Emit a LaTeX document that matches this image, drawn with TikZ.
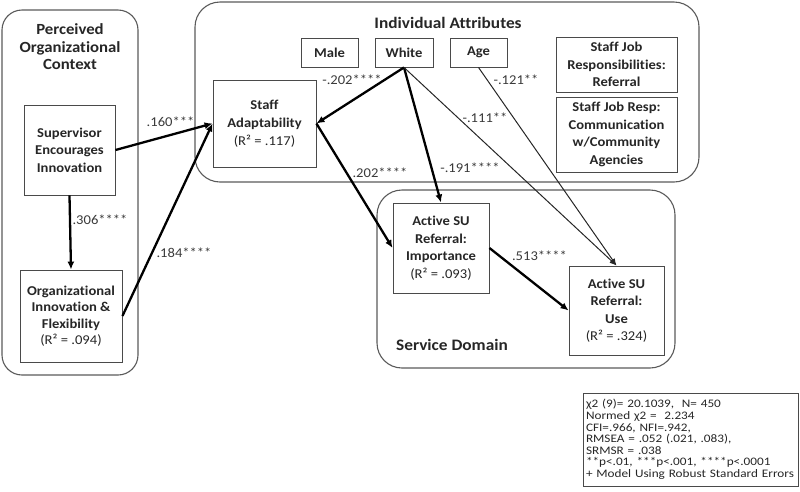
\documentclass[tikz,border=0pt]{standalone}
\usepackage{fontspec}
\setmainfont{Carlito}[Ligatures=NoCommon, FakeStretch=1.08]
\newfontfamily\statsfont{Carlito}[Ligatures=NoCommon, FakeStretch=1.15]
\usetikzlibrary{arrows.meta}
\definecolor{boxgray}{HTML}{4A4A4A}
\definecolor{contgray}{HTML}{5A5A5A}
\definecolor{textdark}{HTML}{262626}
\definecolor{labgray}{HTML}{3A3A3A}
\begin{document}
\begin{tikzpicture}[x=1pt,y=1pt,
  container/.style={draw=contgray, line width=1.1pt},
  vbox/.style={draw=boxgray, line width=0.9pt, align=center, inner sep=0pt, text=textdark,
    font=\fontsize{13.5}{17.5}\selectfont\bfseries},
  ctitle/.style={align=center, text=textdark, font=\fontsize{16}{17.5}\selectfont\bfseries},
  coef/.style={text=labgray, font=\fontsize{13.5}{15}\selectfont, inner sep=0pt},
  thickarrow/.style={line width=2.3pt, draw=black, -{Latex[length=8pt,width=7pt]}},
  thinarrow/.style={line width=1pt, draw=black!85, -{Latex[length=7pt,width=5.5pt]}}
]
\useasboundingbox (0,0) rectangle (800,-491);
% containers
\draw[container, rounded corners=20pt] (2,-10) rectangle (138,-375);
\draw[container, rounded corners=25pt] (195,-2) rectangle (699,-182);
\draw[container, rounded corners=25pt] (377,-190) rectangle (675,-368);
% container titles
\node[ctitle, font=\fontsize{15.5}{17.5}\selectfont\bfseries] (tpoc) at (70,-47) {Perceived\\Organizational\\Context};
\node[ctitle] (tia) at (448,-23) {Individual Attributes};
\node[ctitle] (tsd) at (452,-345) {Service Domain};
% boxes
\node[vbox, minimum width=91pt, minimum height=90pt] (sup) at (69.5,-150) {Supervisor\\Encourages\\Innovation};
\node[vbox, minimum width=102pt, minimum height=92pt, font=\fontsize{13.5}{16.5}\selectfont\bfseries] (org) at (71,-316) {Organizational\\Innovation \&\\Flexibility\\\mdseries(R² = .094)};
\node[vbox, minimum width=57pt, minimum height=29pt] (male) at (329.5,-52.5) {Male};
\node[vbox, minimum width=58pt, minimum height=29pt] (white) at (404,-52.5) {White};
\node[vbox, minimum width=57pt, minimum height=29pt] (age) at (478.5,-52.5) {Age};
\node[vbox, minimum width=121pt, minimum height=55pt] (sjr) at (616.5,-64.5) {Staff Job\\Responsibilities:\\Referral};
\node[vbox, minimum width=121pt, minimum height=75pt] (sjc) at (616.5,-134.5) {Staff Job Resp:\\Communication\\w/Community\\Agencies};
\node[vbox, minimum width=103pt, minimum height=87pt, font=\fontsize{13.5}{18}\selectfont\bfseries] (staff) at (264.5,-123.5) {Staff\\Adaptability\\\mdseries(R² = .117)};
\node[vbox, minimum width=96pt, minimum height=90pt] (imp) at (441,-248) {Active SU\\Referral:\\Importance\\\mdseries(R² = .093)};
\node[vbox, minimum width=95pt, minimum height=89pt] (use) at (616.5,-310.5) {Active SU\\Referral:\\Use\\\mdseries(R² = .324)};
% stats
\node[draw=boxgray, line width=0.9pt, minimum width=215pt, minimum height=93pt, text width=209pt,
  align=left, inner sep=0pt, text=textdark, font=\statsfont\fontsize{11.5}{11.6}\selectfont] (stats) at (690.5,-439.5)
  {χ2 (9)= 20.1039,\ \ N= 450\\Normed χ2 =\ \ 2.234\\CFI=.966, NFI=.942,\\RMSEA = .052 (.021, .083),\\SRMSR = .038\\{}**p<.01, ***p<.001, ****p<.0001\\+ Model Using Robust Standard Errors};
% connectors
\draw[thickarrow] (sup.south) -- (org.north);
\draw[thickarrow] (sup.east) -- (staff.west);
\draw[thickarrow] (org.east) -- (staff.west);
\draw[thickarrow] (white.south) -- (staff.east);
\draw[thickarrow] (white.south) -- (imp.north);
\draw[thinarrow] (white.south) -- (use.north);
\draw[thinarrow] (age.south) -- (use.north);
\draw[thickarrow] (staff.east) -- (imp.west);
\draw[thickarrow] (imp.east) -- (use.west);
% coefficient labels
\node[coef] (l160) at (170.5,-122) {.160***};
\node[coef] (l306) at (100,-220) {.306****};
\node[coef] (l184) at (184,-253) {.184****};
\node[coef] (l202a) at (352,-80) {-.202****};
\node[coef] (l121) at (516,-80) {-.121**};
\node[coef] (l111) at (485,-118) {-.111**};
\node[coef] (l202b) at (380,-173) {.202****};
\node[coef] (l191) at (470,-168) {-.191****};
\node[coef] (l513) at (539.5,-256) {.513****};
\end{tikzpicture}
\end{document}
